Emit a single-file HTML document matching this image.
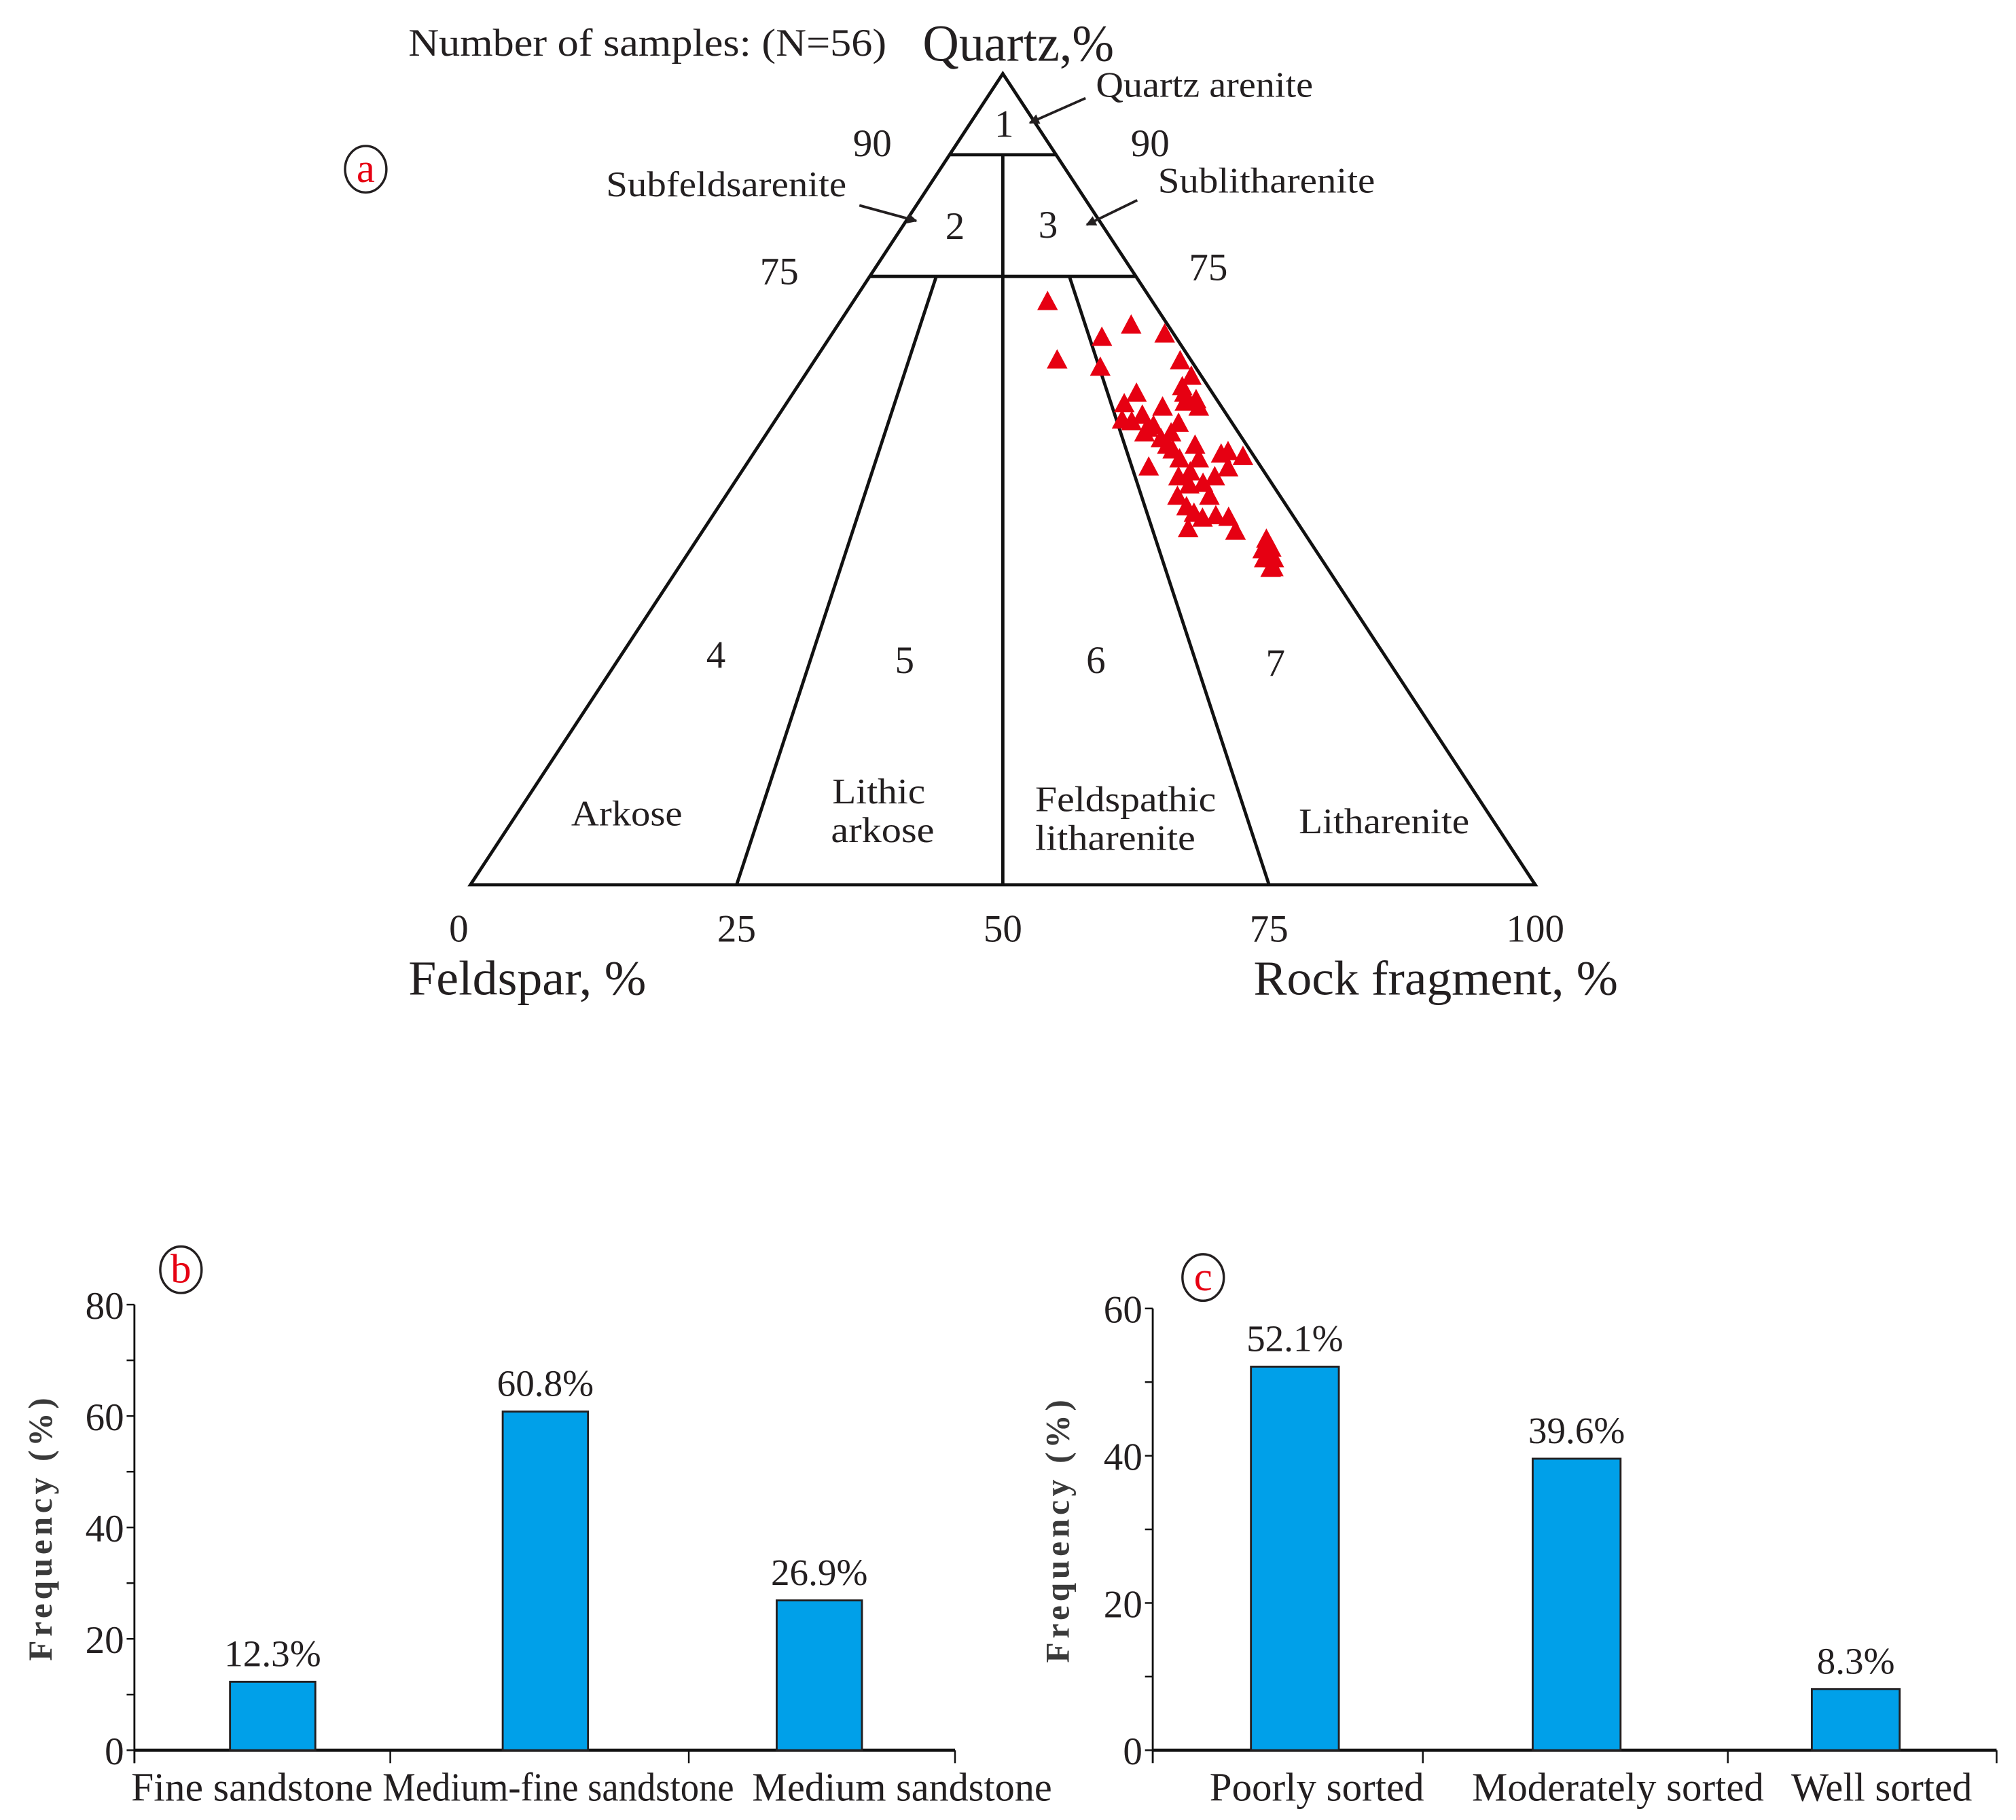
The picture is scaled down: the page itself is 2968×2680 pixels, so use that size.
<!DOCTYPE html>
<html><head><meta charset="utf-8"><style>
html,body{margin:0;padding:0;background:#fff;}
svg{display:block;}
text{font-family:"Liberation Serif",serif;fill:#231f20;}
</style></head><body>
<svg id="fig" width="2968" height="2680" viewBox="0 0 1560 1409" preserveAspectRatio="none" xmlns="http://www.w3.org/2000/svg">
<defs><marker id="ah" markerWidth="8" markerHeight="8" refX="7" refY="4" orient="auto" markerUnits="userSpaceOnUse" viewBox="0 0 8 8"><path d="M0,0 L8,4 L0,8 Z" fill="#231f20"/></marker></defs>
<g id="tern"></g>
<g id="chartB"></g>
<g id="chartC"></g>
</svg>
<script>
// Ternary data (percent)
const quartz=[71.8,64.6,67.4,68.9,67.8,63.7,64.5,62.6,60.5,58.8,59.2,60.5,57.0,57.8,56.5,58.8,55.6,56.8,59.4,51.4,52.4,52.4,53.0,53.3,52.7,50.2,49.2,49.4,50.2,51.3,47.8,46.5,45.1,45.4,45.2,43.5,43.8,42.5,41.4,40.1,40.1,38.9,57.2,55.6,54.9,50.8,54.1,53.5,47.8,61.3,59.7,56.2,54.1,45.7,39.0,41.2];
const rock=[18.3,22.8,25.6,27.6,31.3,27.3,34.4,36.4,36.8,39.0,31.8,32.3,33.6,34.2,35.9,35.6,38.0,38.1,37.4,38.0,40.4,42.2,44.0,44.5,46.2,41.4,42.9,44.1,44.8,45.5,42.5,44.0,46.2,47.3,48.6,50.1,45.5,53.5,54.5,54.5,55.4,55.7,32.6,35.5,37.4,42.2,41.0,39.2,45.5,36.2,38.3,35.5,38.4,45.1,55.9,53.8];
const baseTicks=["0","25","50","75","100"];
// Bar chart b
const catsB=["Fine sandstone","Medium-fine sandstone","Medium sandstone"];
const valsB=[12.3,60.8,26.9];
const ticksB=[0,20,40,60,80];
// Bar chart c
const catsC=["Poorly sorted","Moderately sorted","Well sorted"];
const valsC=[52.1,39.6,8.3];
const ticksC=[0,20,40,60];

const NS="http://www.w3.org/2000/svg";
function mk(parent,tag,attrs,txt){const e=document.createElementNS(NS,tag);for(const k in attrs)e.setAttribute(k,attrs[k]);if(txt!==undefined)e.textContent=txt;parent.appendChild(e);return e;}

// ---- Ternary ----
const T=document.getElementById('tern');
const AX={x:776,y:57},BL={x:364,y:685},BR={x:1188,y:685};
function tx(q,r){return 364+824*(r+q/2)/100;}
function ty(q){return 685-628*q/100;}
let e;
e=mk(T,'polygon',{points:`${AX.x},${AX.y} ${BL.x},${BL.y} ${BR.x},${BR.y}`,fill:'none',stroke:'#111','stroke-width':2.5,'stroke-linejoin':'miter'});

function seg(q1,r1,q2,r2,name){const l=mk(T,'line',{x1:tx(q1,r1),y1:ty(q1),x2:tx(q2,r2),y2:ty(q2),stroke:'#111','stroke-width':2.5});}
seg(90,0,90,10,'q90-line');
seg(75,0,75,25,'q75-line');
seg(90,5,0,50,'center-line');
seg(75,6.25,0,25,'lithic-arkose-line');
seg(75,18.75,0,75,'litharenite-line');
function t(p,x,y,s,str,name,extra,w){const o=Object.assign({x:x,y:y,'font-size':s},extra||{});if(w){o.textLength=w;o.lengthAdjust='spacingAndGlyphs';}const el=mk(p,'text',o,str);return el;}
t(T,316,43,30,'Number of samples:  (N=56)','sample-count',null,370);
t(T,714,47,40,'Quartz,%','quartz-apex-label',null,148);
t(T,848,75,28,'Quartz arenite','quartz-arenite-label',null,168);
t(T,469,152,28,'Subfeldsarenite','subfeldsarenite-label',null,186);
t(T,896,149,28,'Sublitharenite','sublitharenite-label',null,168);
[[840,76,797,95,'arrow-quartz-arenite'],[665,159,709,171,'arrow-subfeldsarenite'],[880,155,841,174,'arrow-sublitharenite']].forEach(a=>{const l=mk(T,'line',{x1:a[0],y1:a[1],x2:a[2],y2:a[3],stroke:'#231f20','stroke-width':2,'marker-end':'url(#ah)'});});
t(T,675,121,30,'90','left-90',{'text-anchor':'middle'});
t(T,890,121,30,'90','right-90',{'text-anchor':'middle'});
t(T,603,220,30,'75','left-75',{'text-anchor':'middle'});
t(T,935,217,30,'75','right-75',{'text-anchor':'middle'});
[['1',777,106],['2',739,185],['3',811,184],['4',554,517],['5',700,521],['6',848,521],['7',987,523]].forEach(z=>t(T,z[1],z[2],30,z[0],'field-number-'+z[0],{'text-anchor':'middle'}));
t(T,485,639,28,'Arkose','arkose-label',{'text-anchor':'middle'},86);
t(T,680,622,28,'Lithic','lithic-arkose-label-1',{'text-anchor':'middle'},72);
t(T,683,652,28,'arkose','lithic-arkose-label-2',{'text-anchor':'middle'},80);
t(T,871,628,28,'Feldspathic','feldspathic-label-1',{'text-anchor':'middle'},140);
t(T,863,658,28,'litharenite','feldspathic-label-2',{'text-anchor':'middle'},124);
t(T,1071,645,28,'Litharenite','litharenite-label',{'text-anchor':'middle'},132);
baseTicks.forEach((s,i)=>{const r=+s;t(T,tx(0,r)+(i==0?-9:0),729,30,s,'base-tick-'+s,{'text-anchor':'middle'});});
t(T,316,770,38,'Feldspar, %','feldspar-label',null,184);
t(T,970,770,38,'Rock fragment, %','rock-fragment-label',null,282);
for(let i=0;i<quartz.length;i++){
  const x=tx(quartz[i],rock[i]),y=ty(quartz[i]);
  const p=mk(T,'polygon',{points:`${x},${y-9} ${x-8},${y+6} ${x+8},${y+6}`,fill:'#e60012'});
  
  
}
function circ(cx,cy,ch,name){const g=mk(document.getElementById('fig'),'g',{});mk(g,'ellipse',{cx:cx,cy:cy,rx:16,ry:18,fill:'none',stroke:'#231f20','stroke-width':1.8});mk(g,'text',{x:cx,y:cy+10,'font-size':32,'text-anchor':'middle',style:'fill:#e60012'},ch);}
circ(283,131,'a','panel-label-a');

// ---- bar charts ----
function bars(G,cfg){
  const {x0,x1,y0,ytop,vmax,cats,vals,ticks,centers,bw,xticks,labelX,labelW,title,titleX}=cfg;
  const ys=v=>y0-(y0-ytop)*v/vmax;
  let l;
  l=mk(G,'line',{x1:x0,y1:ytop,x2:x0,y2:y0+10,stroke:'#111','stroke-width':1.5});
  l=mk(G,'line',{x1:x0,y1:y0,x2:x1,y2:y0,stroke:'#111','stroke-width':2.5});
  for(let v=0;v<=vmax;v+=10){const tk=mk(G,'line',{x1:x0-6,y1:ys(v),x2:x0,y2:ys(v),stroke:'#111','stroke-width':1.3});}
  ticks.forEach(v=>{const el=mk(G,'text',{x:x0-8,y:ys(v)+11,'font-size':30,'text-anchor':'end'},String(v));});
  xticks.forEach(x=>{const tk=mk(G,'line',{x1:x,y1:y0,x2:x,y2:y0+10,stroke:'#111','stroke-width':1.3});});
  vals.forEach((v,i)=>{
    const r=mk(G,'rect',{x:centers[i]-bw/2,y:ys(v),width:bw,height:y0-ys(v),fill:'#00a0e9',stroke:'#231f20','stroke-width':1.5});
    
    
    const lb=mk(G,'text',{x:centers[i],y:ys(v)-12,'font-size':29,'text-anchor':'middle'},v.toFixed(1)+'%');
    
    
  });
  cats.forEach((c,i)=>{const el=mk(G,'text',{x:labelX[i],y:y0+39,'font-size':31,'text-anchor':'middle',textLength:labelW[i],lengthAdjust:'spacingAndGlyphs'},c);});
  const tt=mk(G,'text',{x:0,y:0,'font-size':26,'font-weight':'bold','letter-spacing':3,'text-anchor':'middle',transform:`translate(${titleX},${(ytop+y0)/2}) rotate(-90)`,style:'fill:#3a3a3a'},title);
  
}
bars(document.getElementById('chartB'),{x0:104,x1:739,y0:1355,ytop:1010,vmax:80,cats:catsB,vals:valsB,ticks:ticksB,centers:[211,422,634],bw:66,xticks:[104,302,533,739],labelX:[195,432,698],labelW:[187,272,232],title:'Frequency (%)',titleX:40});
bars(document.getElementById('chartC'),{x0:892,x1:1545,y0:1355,ytop:1013,vmax:60,cats:catsC,vals:valsC,ticks:ticksC,centers:[1002,1220,1436],bw:68,xticks:[1101,1337,1545],labelX:[1019,1252,1456],labelW:[166,226,140],title:'Frequency (%)',titleX:827});
circ(140,983,'b','panel-label-b');
circ(931,989,'c','panel-label-c');
</script>
</body></html>
